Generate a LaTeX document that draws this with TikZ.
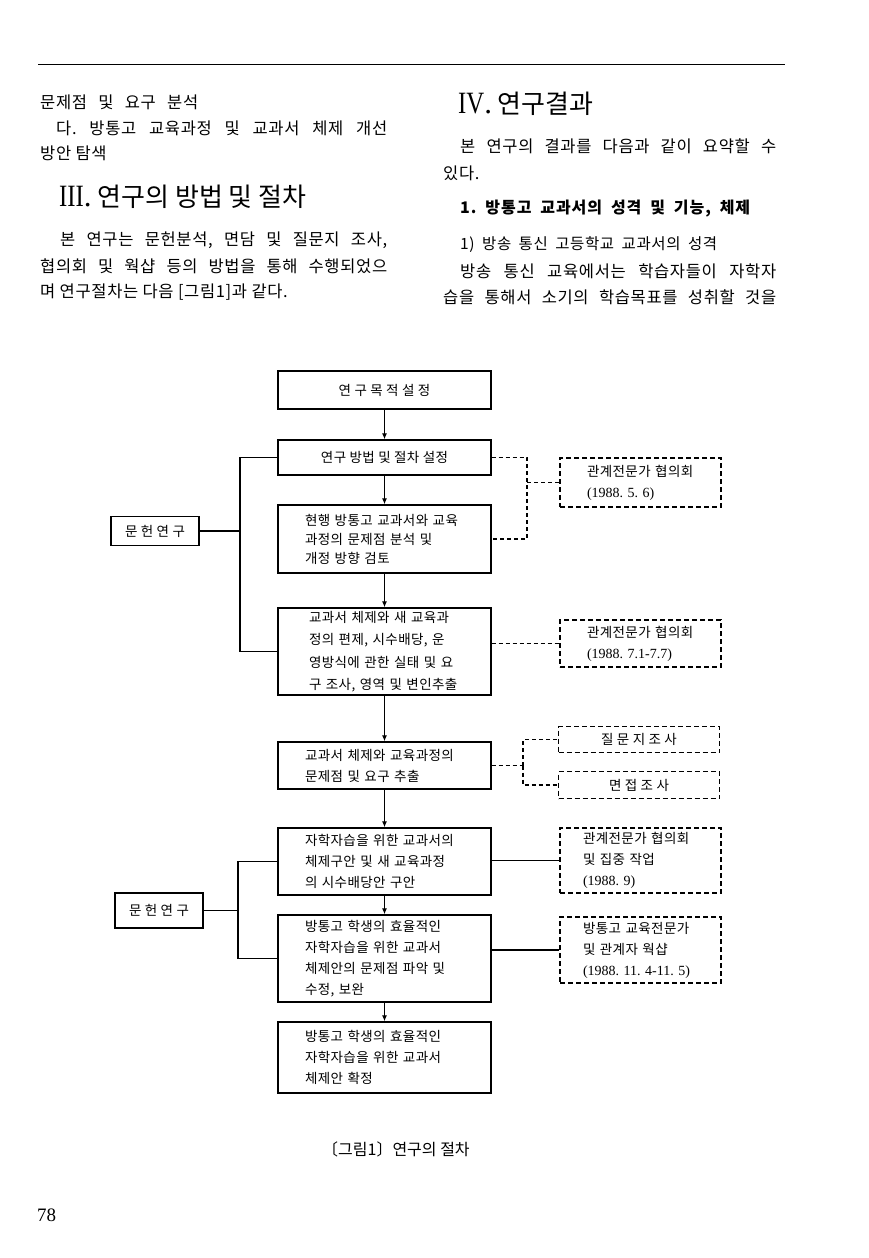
\documentclass[tikz,border=0pt]{standalone}
\usepackage{fontspec}
\usepackage{graphicx}
\setmainfont{Noto Sans CJK KR}
\newfontfamily\kbody[LetterSpace=4]{Noto Sans CJK KR}
\newfontfamily\kmid[LetterSpace=6]{Noto Sans CJK KR}
\newfontfamily\kbox[LetterSpace=3]{Noto Sans CJK KR}
\newfontfamily\lserif{Liberation Serif}
\usetikzlibrary{arrows.meta}

\newcommand{\bodyfont}{\kbody\fontsize{16.5pt}{20pt}\selectfont}
\newcommand{\boxfont}{\kbox\fontsize{13.5pt}{21pt}\selectfont}
\newcommand{\dt}[1]{{\lserif\fontsize{14pt}{21pt}\selectfont #1}}
\newcommand{\tline}[5]{\node[txt] (#1) at (#2,#3) {\bodyfont\makebox[#4pt][s]{#5}};}

\tikzset{
	txt/.style={anchor=west, inner sep=0pt},
	stepbox/.style={draw, line width=1.3pt, minimum width=213pt, inner sep=0pt, font=\boxfont},
	listbox/.style={stepbox, text width=159pt, inner xsep=27pt, align=left},
	litbox/.style={draw, line width=1.3pt, inner sep=0pt, font=\boxfont},
	notebox/.style={draw, line width=1.1pt, dash pattern=on 5pt off 3pt, minimum width=161pt, inner sep=0pt, font=\boxfont},
	notelist/.style={notebox, text width=115pt, inner xsep=23pt, align=left},
	flow/.style={line width=1.3pt, -{Latex[length=6pt,width=5pt]}},
	link/.style={line width=1.2pt},
	dlink/.style={line width=1.1pt, dash pattern=on 4pt off 3pt}
}

\begin{document}
\frenchspacing
\begin{tikzpicture}[x=1pt,y=-1pt]
	\useasboundingbox (0,0) rectangle (869,1258);
	\fill[white] (0,0) rectangle (869,1258);
	\draw[line width=1pt] (38,64) -- (785,64);

	% left column
	\tline{la}{40}{102}{158}{문제점 및 요구 분석}
	\tline{lb}{56}{128}{331}{다. 방통고 교육과정 및 교과서 체제 개선}
	\node[txt] (lc) at (40,153) {\bodyfont 방안 탐색};
	\node[txt] (sec3) at (59,197) {\fontsize{26pt}{30pt}\selectfont{\lserif\fontsize{31pt}{30pt}\selectfont\scalebox{0.8}[1]{III}.} 연구의 방법 및 절차};
	\tline{ld}{60}{240}{327}{본 연구는 문헌분석, 면담 및 질문지 조사,}
	\tline{le}{40}{266}{347}{협의회 및 웍샵 등의 방법을 통해 수행되었으}
	\node[txt] (lf) at (40,292) {\bodyfont 며 연구절차는 다음 [그림1]과 같다.};

	% right column
	\node[txt] (sec4) at (458,104) {\fontsize{26pt}{30pt}\selectfont{\lserif\fontsize{31pt}{30pt}\selectfont\scalebox{0.8}[1]{IV}.} 연구결과};
	\tline{ra}{460}{146}{316}{본 연구의 결과를 다음과 같이 요약할 수}
	\node[txt] (rb) at (443,173) {\bodyfont 있다.};
	\node[txt] (rc) at (460,209) {\kmid\fontsize{16pt}{18pt}\selectfont\bfseries\makebox[290pt][s]{1. 방통고 교과서의 성격 및 기능, 체제}};
	\node[txt] (rd) at (460,245) {\kbody\fontsize{15.5pt}{18pt}\selectfont\makebox[257pt][s]{1) 방송 통신 고등학교 교과서의 성격}};
	\tline{re}{460}{271}{316}{방송 통신 교육에서는 학습자들이 자학자}
	\tline{rf}{443}{297}{333}{습을 통해서 소기의 학습목표를 성취할 것을}

	% main steps
	\node[stepbox, minimum height=38pt] (goal) at (384.5,390) {연 구 목 적 설 정};
	\node[stepbox, minimum height=35pt] (method) at (384.5,457.5) {연구 방법 및 절차 설정};
	\node[listbox, minimum height=68pt, font=\kbox\fontsize{13.5pt}{19pt}\selectfont] (review) at (384.5,539) {현행 방통고 교과서와 교육\\과정의 문제점 분석 및\\개정 방향 검토};
	\node[listbox, minimum height=87pt, inner xsep=31pt, text width=151pt, font=\kbox\fontsize{13.5pt}{22.5pt}\selectfont] (survey) at (384.5,651.5) {교과서 체제와 새 교육과\\정의 편제, 시수배당, 운\\영방식에 관한 실태 및 요\\구 조사, 영역 및 변인추출};
	\node[listbox, minimum height=47pt] (needs) at (384.5,765.5) {교과서 체제와 교육과정의\\문제점 및 요구 추출};
	\node[listbox, minimum height=67pt] (draft) at (384.5,861.5) {자학자습을 위한 교과서의\\체제구안 및 새 교육과정\\의 시수배당안 구안};
	\node[listbox, minimum height=87pt] (revise) at (384.5,958.5) {방통고 학생의 효율적인\\자학자습을 위한 교과서\\체제안의 문제점 파악 및\\수정, 보완};
	\node[listbox, minimum height=71pt] (final) at (384.5,1057.5) {방통고 학생의 효율적인\\자학자습을 위한 교과서\\체제안 확정};

	\draw[flow] (goal.south) -- (method.north);
	\draw[flow] (method.south) -- (review.north);
	\draw[flow] (review.south) -- (survey.north);
	\draw[flow] (survey.south) -- (needs.north);
	\draw[flow] (needs.south) -- (draft.north);
	\draw[flow] (draft.south) -- (revise.north);
	\draw[flow] (revise.south) -- (final.north);

	% literature study
	\node[litbox, minimum width=88pt, minimum height=29pt] (lit1) at (155,531) {문 헌 연 구};
	\coordinate (j1) at (240,531);
	\draw[link] (lit1.east) -- (j1);
	\draw[link] (method.west) -| (j1) |- (survey.west);

	\node[litbox, minimum width=88pt, minimum height=35pt] (lit2) at (159,910.5) {문 헌 연 구};
	\coordinate (j2) at (238,910.5);
	\draw[link] (lit2.east) -- (j2);
	\draw[link] (draft.west) -| (j2) |- (revise.west);

	% meetings and surveys
	\node[notelist, minimum height=49pt, inner xsep=27pt, text width=107pt] (meet1) at (640.5,482.5) {관계전문가 협의회\\\dt{(1988. 5. 6)}};
	\coordinate (jA) at (527,482.5);
	\draw[dlink] (method.east) -| (jA) |- (review.east);
	\draw[dlink] (jA) -- (meet1.west);

	\node[notelist, minimum height=47pt, inner xsep=27pt, text width=107pt] (meet2) at (640.5,643.5) {관계전문가 협의회\\\dt{(1988. 7.1-7.7)}};
	\draw[dlink] (meet2.west -| survey.east) -- (meet2.west);

	\node[notebox, minimum height=26pt] (quest) at (639,739.5) {질 문 지 조 사};
	\node[notebox, minimum height=27pt] (inter) at (639,785) {면 접 조 사};
	\coordinate (jC) at (523,765.5);
	\draw[dlink] (needs.east) -- (jC);
	\draw[dlink] (jC) |- (quest.west);
	\draw[dlink] (jC) |- (inter.west);

	\node[notelist, minimum height=65pt] (meet3) at (640.5,860.5) {관계전문가 협의회\\및 집중 작업\\\dt{(1988. 9)}};
	\draw[link] (meet3.west -| draft.east) -- (meet3.west);

	\node[notelist, minimum height=66pt] (meet4) at (640.5,950) {방통고 교육전문가\\및 관계자 웍샵\\\dt{(1988. 11. 4-11. 5)}};
	\draw[link] (meet4.west -| revise.east) -- (meet4.west);

	% caption and page number
	\node[txt] (cap) at (322,1149) {\fontsize{16pt}{18pt}\selectfont 〔그림1〕연구의 절차};
	\node[txt] (pgno) at (37,1215) {\lserif\fontsize{19pt}{22pt}\selectfont 78};
\end{tikzpicture}
\end{document}
